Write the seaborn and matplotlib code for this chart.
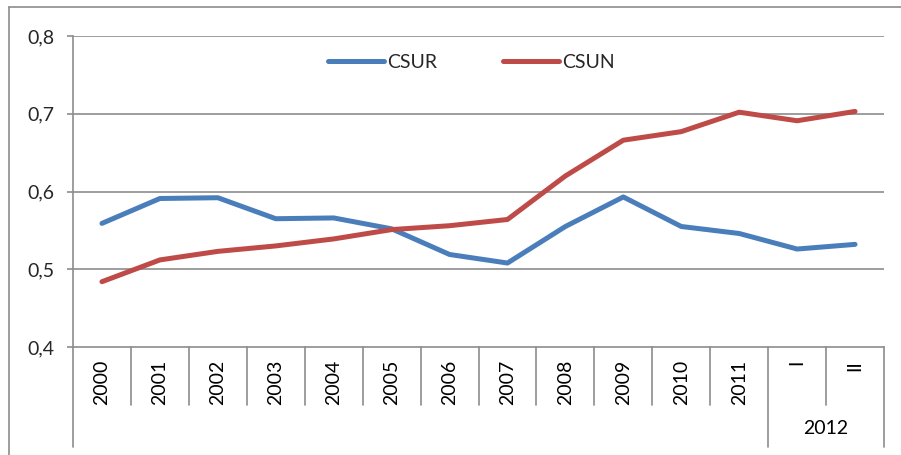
import matplotlib
matplotlib.use("Agg")
import matplotlib.pyplot as plt
import matplotlib.transforms as mtransforms
import seaborn as sns
import pandas as pd

categories = ["2000", "2001", "2002", "2003", "2004", "2005", "2006", "2007",
              "2008", "2009", "2010", "2011", "I", "II"]
group_label = "2012"
csur = [0.559, 0.591, 0.592, 0.565, 0.566, 0.552, 0.519, 0.508,
        0.555, 0.593, 0.555, 0.546, 0.526, 0.532]
csun = [0.484, 0.512, 0.523, 0.530, 0.539, 0.551, 0.556, 0.564,
        0.620, 0.666, 0.677, 0.702, 0.691, 0.703]
series_names = ["CSUR", "CSUN"]
yticks = [0.4, 0.5, 0.6, 0.7, 0.8]
ytick_labels = ["0,4", "0,5", "0,6", "0,7", "0,8"]

sns.set_theme(style="white")
plt.rcParams["font.family"] = ["Lato", "DejaVu Sans"]

BLUE = "#4A7EBB"
RED = "#BE4B48"
GRID = "#8C8C8C"
FS = 14

rows = []
for name, vals in zip(series_names, [csur, csun]):
    for i, v in enumerate(vals):
        rows.append({"pos": i, "value": v, "series": name})
df = pd.DataFrame(rows)

W, H = 901, 455
fig = plt.figure(figsize=(W / 100, H / 100), dpi=100)
x0, x1 = 73, 884
y_top, y_bot = 36, 347
ax = fig.add_axes([x0 / W, 1 - y_bot / H, (x1 - x0) / W, (y_bot - y_top) / H])

sns.lineplot(data=df, x="pos", y="value", hue="series", palette=[BLUE, RED],
             linewidth=3.6, ax=ax, legend=True, solid_capstyle="round",
             solid_joinstyle="round")

ax.set_xlim(-0.5, len(categories) - 0.5)
ax.set_ylim(0.4, 0.8)
ax.set_yticks(yticks)
ax.set_yticklabels(ytick_labels, fontsize=FS)
ax.set_xticks([])
ax.set_xlabel("")
ax.set_ylabel("")
for y in yticks[1:]:
    ax.axhline(y, color=GRID, lw=1.2, zorder=0)
for s in ["top", "right"]:
    ax.spines[s].set_visible(False)
for s in ["left", "bottom"]:
    ax.spines[s].set_color(GRID)
    ax.spines[s].set_linewidth(1.2)
ax.tick_params(axis="y", length=4.5, width=1.2, color=GRID, pad=9, left=True)

# legend
leg = ax.legend(loc="center", bbox_to_anchor=(0.491, 0.916), ncol=2, frameon=False,
                fontsize=FS, handlelength=2.9, handletextpad=0.12, columnspacing=3.4)
for line in leg.get_lines():
    line.set_linewidth(3.6)
    line.set_solid_capstyle("round")

# category axis (multi-level)
trans = mtransforms.blended_transform_factory(ax.transData, ax.transAxes)
ph = y_bot - y_top
lvl1 = -(405 - y_bot) / ph
lvl2 = -(447 - y_bot) / ph
n = len(categories)
for i in range(n + 1):
    xb = i - 0.5
    if i in (0, 12, n):
        yend = lvl2
    else:
        yend = lvl1
    ax.plot([xb, xb], [0, yend], color=GRID, lw=1.2, transform=trans, clip_on=False)
for i, c in enumerate(categories):
    ax.text(i, -(360 - y_bot) / ph, c, rotation=90, ha="center", va="top",
            fontsize=FS, transform=trans, color="black")
ax.text(12.5, -(429 - y_bot) / ph, group_label, ha="center", va="center",
        fontsize=FS, transform=trans, color="black")

# outer chart border (top and left visible in crop)
fig.add_artist(plt.Line2D([9 / W, 1], [1 - 7 / H, 1 - 7 / H], color=GRID, lw=1.2,
                          transform=fig.transFigure))
fig.add_artist(plt.Line2D([9 / W, 9 / W], [0, 1 - 7 / H], color=GRID, lw=1.2,
                          transform=fig.transFigure))

fig.savefig("out.png", dpi=100, facecolor="white")
